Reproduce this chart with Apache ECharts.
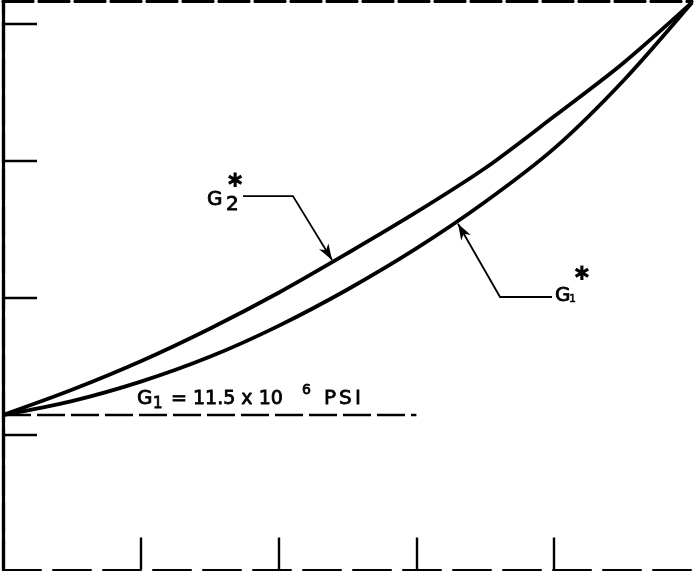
<!DOCTYPE html>
<html><head><meta charset="utf-8">
<script src="https://cdn.jsdelivr.net/npm/echarts@6/dist/echarts.min.js"></script>
<style>html,body{margin:0;padding:0;background:#fff}#c{width:694px;height:571px}</style>
</head><body><div id="c"></div>
<script>
// shared x positions of the curve samples
const curveX = [0, 0.5, 1.0, 1.5, 2.0, 2.5, 3.0, 3.5, 4.0, 4.5, 5.0];
// G2* (upper curve)
const g2Y = [1.146, 1.330, 1.538, 1.775, 2.037, 2.325, 2.624, 2.946, 3.323, 3.710, 4.153];
// G1* (lower curve)
const g1Y = [1.146, 1.247, 1.389, 1.570, 1.796, 2.061, 2.360, 2.700, 3.089, 3.581, 4.153];
// G1 = 11.5 x 10^6 PSI reference line
const refX = [0, 3.0];
const refY = [1.146, 1.146];
// tick positions
const xTicks = [1, 2, 3, 4];
const yTicks = [1, 2, 3, 4];
// annotation leader lines (data coords)
const g2Leader = [[1.742, 2.742], [2.104, 2.742], [2.388, 2.276]];
const g1Leader = [[3.984, 2.006], [3.607, 2.006], [3.302, 2.54]];
const refLabelAt = [0.98, 1.146];

const zip = (xs, ys) => xs.map((x, i) => [x, ys[i]]);
const chart = echarts.init(document.getElementById('c'), null, {renderer: 'canvas'});
const X0 = 0, X1 = 5, Y0 = 0.02, Y1 = 4.16;
const hidden = {show: false};
chart.setOption({
  animation: false,
  backgroundColor: '#fff',
  grid: {left: 3, right: 2, top: 1.5, bottom: 1.5},
  xAxis: [
    {type: 'value', min: X0, max: X1, interval: 1, position: 'bottom',
     axisLine: {show: true, lineStyle: {color: '#000', width: 2, type: [38, 12]}},
     axisTick: {show: true, inside: true, length: 32, customValues: xTicks, lineStyle: {color: '#000', width: 2.4}},
     axisLabel: hidden, splitLine: hidden},
    {type: 'value', min: X0, max: X1, position: 'top',
     axisLine: {show: true, lineStyle: {color: '#000', width: 3.2, type: [30, 6]}},
     axisTick: hidden, axisLabel: hidden, splitLine: hidden}
  ],
  yAxis: [
    {type: 'value', min: Y0, max: Y1, position: 'left',
     axisLine: {show: true, lineStyle: {color: '#000', width: 3.2}},
     axisTick: {show: true, inside: true, length: 34, customValues: yTicks, lineStyle: {color: '#000', width: 2.4}},
     axisLabel: hidden, splitLine: hidden},
    {type: 'value', min: Y0, max: Y1, position: 'right',
     axisLine: {show: true, lineStyle: {color: '#000', width: 3.2, type: [30, 7]}},
     axisTick: hidden, axisLabel: hidden, splitLine: hidden}
  ],
  series: [
    {type: 'line', name: 'G2*', data: zip(curveX, g2Y), smooth: 0.3, showSymbol: false,
     lineStyle: {color: '#000', width: 3.8}},
    {type: 'line', name: 'G1*', data: zip(curveX, g1Y), smooth: 0.3, showSymbol: false,
     lineStyle: {color: '#000', width: 3.8}},
    {type: 'line', name: 'G1 ref', data: zip(refX, refY), showSymbol: false,
     lineStyle: {color: '#000', width: 2.6, type: [28, 6]}}
  ]
});

const P = (p) => chart.convertToPixel({xAxisIndex: 0, yAxisIndex: 0}, p);
function arrowHead(from, tip, L, w) {
  const dx = tip[0] - from[0], dy = tip[1] - from[1];
  const len = Math.hypot(dx, dy), ux = dx / len, uy = dy / len;
  const nx = -uy, ny = ux;
  const bx = tip[0] - ux * L, by = tip[1] - uy * L;
  const mx = tip[0] - ux * L * 0.72, my = tip[1] - uy * L * 0.72;
  return [tip, [bx + nx * w, by + ny * w], [mx, my], [bx - nx * w, by - ny * w]];
}
function txt(text, x, y, size, align, stroke) {
  return {type: 'text', silent: true, style: {text: text, x: x, y: y,
    fontSize: size, fontFamily: 'DejaVu Sans', fill: '#000',
    stroke: '#000', lineWidth: stroke == null ? 0.8 : stroke,
    textAlign: align || 'left', textVerticalAlign: 'middle'}};
}
const g2p = g2Leader.map(P), g1p = g1Leader.map(P);
const s2 = g2p[0], e1 = g1p[0];
const rp = P(refLabelAt);
const graphic = [
  {type: 'polyline', silent: true, shape: {points: g2p}, style: {stroke: '#000', lineWidth: 1.8, fill: null}},
  {type: 'polygon', silent: true, shape: {points: arrowHead(g2p[1], g2p[2], 16, 5.5)}, style: {fill: '#000'}},
  {type: 'polyline', silent: true, shape: {points: g1p}, style: {stroke: '#000', lineWidth: 1.8, fill: null}},
  {type: 'polygon', silent: true, shape: {points: arrowHead(g1p[1], g1p[2], 16, 5.5)}, style: {fill: '#000'}},
  // G2* label
  txt('G', s2[0] - 36, s2[1] + 3.5, 20),
  txt('2', s2[0] - 17, s2[1] + 8.5, 20),
  txt('✱', s2[0] - 8, s2[1] - 14.5, 20, 'center', 0),
  // G1* label
  txt('G', e1[0] + 3, e1[1] - 1.5, 20),
  txt('1', e1[0] + 17, e1[1] + 2, 11, 'left', 0.5),
  txt('✱', e1[0] + 30, e1[1] - 22.5, 20, 'center', 0),
  // reference label
  txt('G', rp[0] - 1, rp[1] - 16, 20),
  txt('1', rp[0] + 15, rp[1] - 11, 15),
  txt('= 11.5 x 10', rp[0] + 33, rp[1] - 16, 19),
  txt('6', rp[0] + 164, rp[1] - 25, 14),
  txt('P', rp[0] + 186, rp[1] - 16, 20),
  txt('S', rp[0] + 201, rp[1] - 16, 20),
  txt('I', rp[0] + 217, rp[1] - 16, 20)
];
chart.setOption({graphic: graphic});
</script></body></html>
